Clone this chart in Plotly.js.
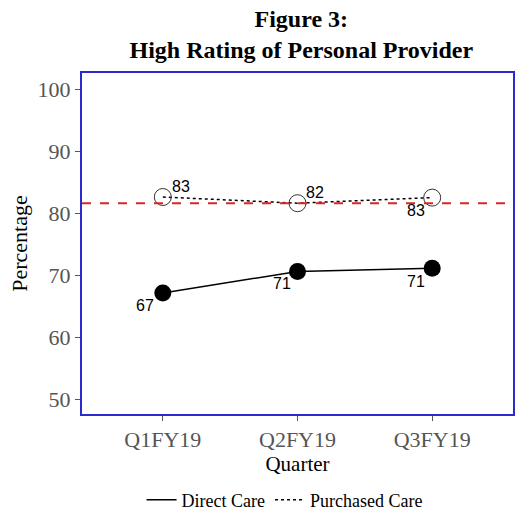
<!DOCTYPE html>
<html><head><meta charset="utf-8">
<script src="https://cdn.plot.ly/plotly-3.0.1.min.js"></script>
<style>html,body{margin:0;padding:0;background:#fff}</style>
</head><body>
<div id="chart" style="width:515px;height:510px"></div>
<script>
const quarters = ["Q1FY19", "Q2FY19", "Q3FY19"];
const directCare = [67.1, 70.6, 71.1];
const directLabels = ["67", "71", "71"];
const purchasedCare = [82.6, 81.6, 82.5];
const purchasedLabels = ["83", "82", "83"];
const benchmark = 81.6;
const yTicks = [50, 60, 70, 80, 90, 100];

const serif = "Liberation Serif, Times New Roman, serif";
const sans = "Liberation Sans, Arial, sans-serif";

const traces = [
  {
    x: quarters, y: directCare, name: "Direct Care", type: "scatter",
    mode: "lines+markers",
    line: {color: "#000", width: 1.5},
    marker: {color: "#000", size: 17, symbol: "circle"},
    showlegend: false
  },
  {
    x: quarters, y: purchasedCare, name: "Purchased Care", type: "scatter",
    mode: "lines+markers",
    line: {color: "#000", width: 1.5, dash: "dot"},
    marker: {color: "#333", size: 17, symbol: "circle-open", line: {color: "#333", width: 1}},
    showlegend: false
  },
  {x: [null], y: [null], name: "Direct Care", type: "scatter", mode: "lines",
   line: {color: "#000", width: 1.5}, showlegend: true},
  {x: [null], y: [null], name: "Purchased Care", type: "scatter", mode: "lines",
   line: {color: "#000", width: 1.5, dash: "dot"}, showlegend: true}
];

// label offsets (pixels) per point: [dx, dy]
const directOffsets = [[-18, 12], [-16, 12], [-16, 13]];
const purchasedOffsets = [[18, -11], [17, -11], [-16, 13]];
const annotations = [];
quarters.forEach((q, i) => {
  annotations.push({x: q, y: directCare[i], xref: "x", yref: "y", text: directLabels[i],
    showarrow: false, xshift: directOffsets[i][0], yshift: -directOffsets[i][1],
    font: {family: sans, size: 16, color: "#000"}});
  annotations.push({x: q, y: purchasedCare[i], xref: "x", yref: "y", text: purchasedLabels[i],
    showarrow: false, xshift: purchasedOffsets[i][0], yshift: -purchasedOffsets[i][1],
    font: {family: sans, size: 16, color: "#000"}});
});

const layout = {
  width: 515, height: 510,
  margin: {l: 82, r: 2, t: 73, b: 96, autoexpand: false},
  paper_bgcolor: "#fff", plot_bgcolor: "#fff",
  title: {
    text: "<b>Figure 3:</b><br><b>High Rating of Personal Provider</b>",
    font: {family: serif, size: 24, color: "#000"},
    x: 0.585, xanchor: "center", yref: "container", y: 0.948, yanchor: "middle"
  },
  xaxis: {
    type: "category", range: [-0.6, 2.6],
    showgrid: false, zeroline: false,
    ticks: "outside", ticklen: 5, tickcolor: "#555",
    tickfont: {family: serif, size: 22, color: "#555"},
    showline: true, linecolor: "#2a2ad0", linewidth: 2, mirror: true,
    title: {text: "Quarter", font: {family: serif, size: 21, color: "#000"}, standoff: 0}
  },
  yaxis: {
    range: [47.6, 102.6], tickvals: yTicks,
    showgrid: false, zeroline: false,
    ticks: "outside", ticklen: 5, tickcolor: "#555",
    tickfont: {family: serif, size: 22, color: "#555"},
    showline: true, linecolor: "#2a2ad0", linewidth: 2, mirror: true,
    title: {text: "Percentage", font: {family: serif, size: 22, color: "#000"}, standoff: 4}
  },
  shapes: [{
    type: "line", xref: "paper", x0: 0, x1: 1, yref: "y", y0: benchmark, y1: benchmark,
    line: {color: "#d62728", width: 2, dash: "dash"}
  }],
  annotations: annotations,
  legend: {
    orientation: "h", x: 0.47, xanchor: "center", y: -0.252, yanchor: "middle",
    font: {family: serif, size: 18, color: "#000"},
    itemwidth: 30, bgcolor: "rgba(0,0,0,0)"
  },
  showlegend: true
};

Plotly.newPlot("chart", traces, layout, {displayModeBar: false, staticPlot: true});
</script>
</body></html>
